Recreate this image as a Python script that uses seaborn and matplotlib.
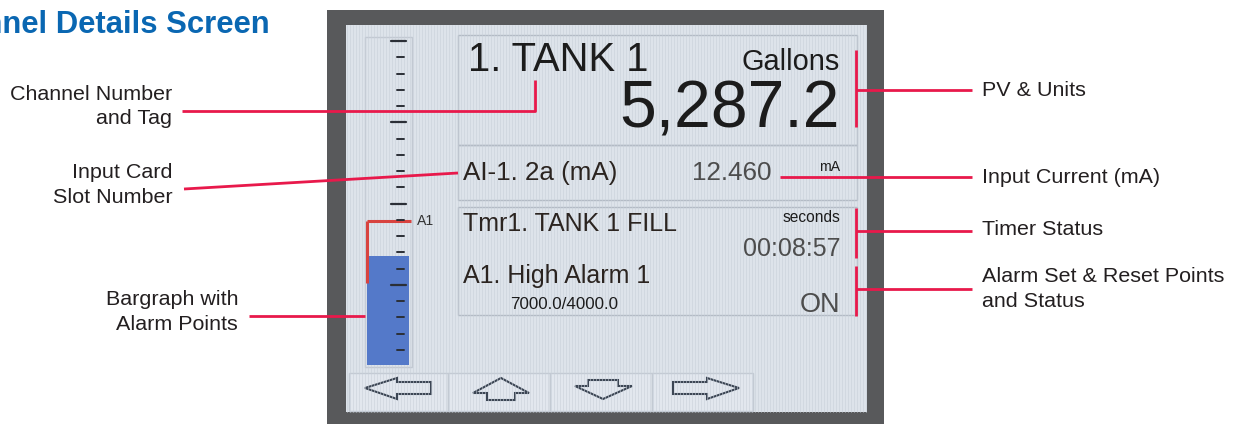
import numpy as np
import matplotlib
matplotlib.use("Agg")
import matplotlib.pyplot as plt
import seaborn as sns
import pandas as pd
from matplotlib.patches import Rectangle, Polygon

# ---------------- data ----------------
title = "Channel Details Screen"
channel_tag = "1. TANK 1"
units = "Gallons"
pv_value = 5287.2
input_label = "AI-1. 2a (mA)"
input_current = 12.460
input_unit = "mA"
timer_label = "Tmr1. TANK 1 FILL"
timer_unit = "seconds"
timer_value = "00:08:57"
alarm_label = "A1. High Alarm 1"
alarm_name = "A1"
alarm_set = 7000.0
alarm_reset = 4000.0
alarm_status = "ON"
bar_min, bar_max = 0, 16000
left_labels = [["Channel Number", "and Tag"],
               ["Input Card", "Slot Number"],
               ["Bargraph with", "Alarm Points"]]
right_labels = [["PV & Units"],
                ["Input Current (mA)"],
                ["Timer Status"],
                ["Alarm Set & Reset Points", "and Status"]]

# ---------------- styling ----------------
sns.set_theme(style="white")
plt.rcParams['font.family'] = ['Liberation Sans', 'DejaVu Sans']

W, H = 1237, 424
PT = 0.72  # points per pixel at dpi 100
RED = "#e8194b"
TXT = "#231f20"
SCR_TXT = "#1c1c1c"
SCR_GRAY = "#4d4d4d"

fig = plt.figure(figsize=(W / 100, H / 100), dpi=100)
fig.patch.set_facecolor("white")
ax = fig.add_axes([0, 0, 1, 1])
ax.set_xlim(0, W)
ax.set_ylim(H, 0)
ax.axis("off")

# Title (partly cut off at the left edge, as in the reference)
ax.text(270, 33, title, ha="right", va="baseline", fontsize=31 * PT,
        fontweight="bold", color="#0a67b2")

# Device frame and screen
ax.add_patch(Rectangle((327, 10), 557, 420, fc="#58595b", ec="none"))
ax.add_patch(Rectangle((346, 25), 521, 387, fc="#dde3ea", ec="none"))
for xs in np.arange(347, 867, 3):
    ax.plot([xs, xs], [25, 412], color="#c8cfd9", lw=0.7, alpha=0.55)

# Bargraph frame
ax.add_patch(Rectangle((365, 37), 47, 330, fc="none", ec="#c2c9d2", lw=1))

# Panels
panel_color = "#b3bbc5"
for (x0, y0, x1, y1) in [(458, 35, 857, 145), (458, 145, 857, 200), (458, 207, 857, 315)]:
    ax.add_patch(Rectangle((x0, y0), x1 - x0, y1 - y0, fc="none", ec=panel_color, lw=1))

# Navigation buttons
btn_edges = [349, 448, 550, 652, 753]
for a, b in zip(btn_edges[:-1], btn_edges[1:]):
    ax.add_patch(Rectangle((a, 373), b - a, 38, fc="#e2e7ee", ec="#c3cad3", lw=1))

arrow_kw = dict(fill=False, ec="#3c4654", lw=1.5, closed=True)
ax.add_patch(Polygon([(365, 388), (397, 378), (397, 382), (431, 382), (431, 394),
                      (397, 394), (397, 399)], **arrow_kw))
ax.add_patch(Polygon([(501, 378), (529, 393), (515, 393), (515, 400), (487, 400),
                      (487, 393), (473, 393)], **arrow_kw))
ax.add_patch(Polygon([(603, 399), (632, 386), (618, 386), (618, 380), (588, 380),
                      (588, 386), (575, 386)], **arrow_kw))
ax.add_patch(Polygon([(739, 388), (707, 378), (707, 382), (673, 382), (673, 394),
                      (707, 394), (707, 399)], **arrow_kw))

# Screen texts
ax.text(468, 71, channel_tag, ha="left", va="baseline", fontsize=40 * PT, color=SCR_TXT)
ax.text(840, 70, units, ha="right", va="baseline", fontsize=29 * PT, color=SCR_TXT)
ax.text(840, 128, f"{pv_value:,.1f}", ha="right", va="baseline", fontsize=66 * PT, color=SCR_TXT)
ax.text(463, 180, input_label, ha="left", va="baseline", fontsize=26 * PT, color="#2b2420")
ax.text(772, 180, f"{input_current:.3f}", ha="right", va="baseline", fontsize=26 * PT, color=SCR_GRAY)
ax.text(840, 171, input_unit, ha="right", va="baseline", fontsize=14 * PT, color=SCR_TXT)
ax.text(463, 231, timer_label, ha="left", va="baseline", fontsize=25 * PT, color="#2b2420")
ax.text(840, 222, timer_unit, ha="right", va="baseline", fontsize=15.5 * PT, color=SCR_TXT)
ax.text(840, 256, timer_value, ha="right", va="baseline", fontsize=25 * PT, color=SCR_GRAY)
ax.text(463, 283, alarm_label, ha="left", va="baseline", fontsize=25 * PT, color="#2b2420")
ax.text(510, 309, f"{alarm_set:.1f}/{alarm_reset:.1f}", ha="left", va="baseline",
        fontsize=17 * PT, color=SCR_TXT)
ax.text(840, 312, alarm_status, ha="right", va="baseline", fontsize=27 * PT, color=SCR_GRAY)

# Annotation labels
left_pos = [(172, [100, 124]), (173, [178, 203]), (238, [305, 330])]
for lines, (xr, ys) in zip(left_labels, left_pos):
    for t, y in zip(lines, ys):
        ax.text(xr, y, t, ha="right", va="baseline", fontsize=21.5 * PT, color=TXT)
right_pos = [[96], [183], [235], [282, 307]]
for lines, ys in zip(right_labels, right_pos):
    for t, y in zip(lines, ys):
        ax.text(982, y, t, ha="left", va="baseline", fontsize=21.5 * PT, color=TXT)

# ---------------- bargraph (data driven) ----------------
bax = fig.add_axes([367 / W, (H - 365) / H, 42 / W, 330 / H])
bar_df = pd.DataFrame({"channel": [channel_tag], "value": [pv_value]})
sns.barplot(data=bar_df, x="channel", y="value", ax=bax, color="#5479c9",
            saturation=1, width=1.0, edgecolor="none")
bax.set_xlim(-0.5, 0.5)
bax.set_ylim(bar_min, bar_max)
bax.axis("off")
bax.plot([-0.5, -0.5], [alarm_reset, alarm_set], color="#d8433f", lw=2.2, clip_on=False,
         solid_capstyle="butt")
bax.plot([-0.5, 0.55], [alarm_set, alarm_set], color="#d8433f", lw=2.2, clip_on=False,
         solid_capstyle="butt")
bax.text(0.68, alarm_set, alarm_name, ha="left", va="center", fontsize=14 * PT,
         color="#333333", clip_on=False)

# ---------------- overlay: scale ticks and callout lines ----------------
ax2 = fig.add_axes([0, 0, 1, 1])
ax2.set_xlim(0, W)
ax2.set_ylim(H, 0)
ax2.axis("off")

for i, y in enumerate(np.linspace(41, 350, 20)):
    if i % 5 == 0:
        ax2.plot([391, 406], [y, y], color="#2b2f36", lw=1.6)
    else:
        ax2.plot([397, 404], [y, y], color="#2b2f36", lw=1.4)

line_kw = dict(color=RED, lw=2, solid_capstyle="butt")
ax2.plot([182, 535, 535], [111, 111, 80], **line_kw)
ax2.plot([184, 458], [189, 173], **line_kw)
ax2.plot([249, 365], [316, 316], **line_kw)
ax2.plot([856, 856], [50, 127], **line_kw)
ax2.plot([856, 972], [90, 90], **line_kw)
ax2.plot([780, 972], [177, 177], **line_kw)
ax2.plot([856, 856], [208, 258], **line_kw)
ax2.plot([856, 972], [231, 231], **line_kw)
ax2.plot([856, 856], [266, 316], **line_kw)
ax2.plot([856, 972], [289, 289], **line_kw)

fig.savefig("out.png", dpi=100)
